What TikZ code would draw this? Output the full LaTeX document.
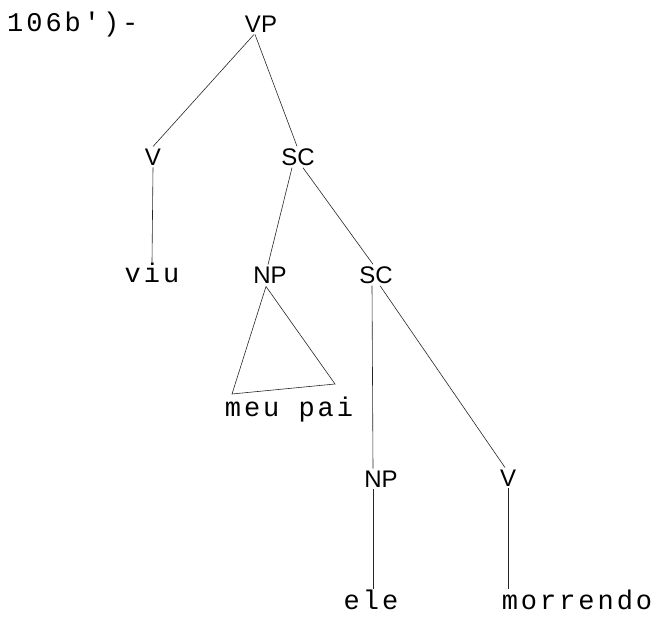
\documentclass[tikz,border=0pt]{standalone}
\usepackage{fontspec}
\setmainfont{Liberation Sans}
\newfontfamily\tw[LetterSpace=11]{Liberation Mono}
\begin{document}
\begin{tikzpicture}[x=1pt,y=-1pt,
  cat/.style={font=\fontsize{24}{26}\selectfont, inner sep=2pt},
  word/.style={font=\tw\fontsize{27}{29}\selectfont, inner sep=1pt},
  edge/.style={line width=0.6pt, black!85}]
\useasboundingbox (0,0) rectangle (656,620);
\node[word, anchor=west] (lab) at (6,25) {106b')-};
\node[cat] (VP) at (261,24) {VP};
\node[cat] (V1) at (153,157) {V};
\node[cat] (SC1) at (298,157) {SC};
\node[word] (viu) at (152,273) {viu};
\node[cat] (NP1) at (270,275) {NP};
\node[cat] (SC2) at (376,275) {SC};
\node[word] (meupai) at (289,410) {meu pai};
\node[cat] (NP2) at (381,479) {NP};
\node[cat] (V2) at (508,478) {V};
\node[word] (ele) at (371,600) {ele};
\node[word] (morr) at (577,600) {morrendo};
\coordinate (tl) at (232,394);
\coordinate (tr) at (335,384);
\draw[edge] ([xshift=-7pt]VP.south) -- (V1.north);
\draw[edge] ([xshift=-6pt]VP.south) -- ([xshift=-1pt]SC1.north);
\draw[edge] (V1.south) -- (viu.north);
\draw[edge] ([xshift=-6pt]SC1.south) -- ([xshift=-2pt]NP1.north);
\draw[edge] ([xshift=5pt]SC1.south) -- ([xshift=-3pt]SC2.north);
\draw[edge] ([xshift=-4pt,yshift=-1pt]NP1.south) -- (tl) -- (tr) -- cycle;
\draw[edge] ([xshift=-4pt]SC2.south) -- ([xshift=-8pt]NP2.north);
\draw[edge] ([xshift=4pt]SC2.south) -- ([xshift=-3pt]V2.north);
\draw[edge] ([xshift=-8pt]NP2.south) -- ([xshift=2pt]ele.north);
\draw[edge] (V2.south) -- (V2.south |- morr.north);
\end{tikzpicture}
\end{document}
